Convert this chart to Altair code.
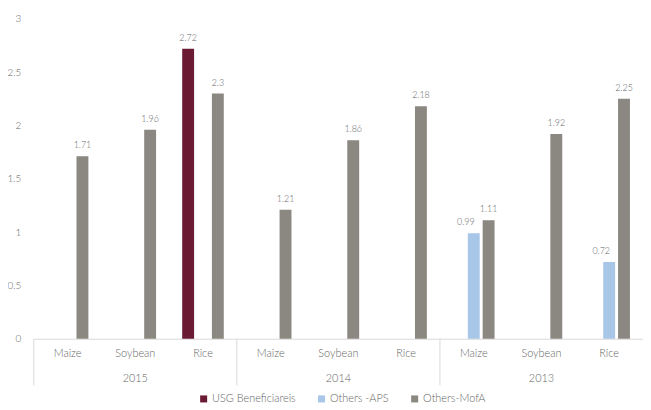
import altair as alt
import pandas as pd

years = ["2015", "2014", "2013"]
crops = ["Maize", "Soybean", "Rice"]
series = ["USG Beneficiareis", "Others -APS", "Others-MofA"]
usg = [None, None, 2.72, None, None, None, None, None, None]
aps = [None, None, None, None, None, None, 0.99, None, 0.72]
mofa = [1.71, 1.96, 2.3, 1.21, 1.86, 2.18, 1.11, 1.92, 2.25]
colors = ["#6b1a34", "#a7c6e8", "#8b8781"]
y_ticks = [0, 0.5, 1, 1.5, 2, 2.5, 3]

FONT = "Lato"
GRAY = "#666666"
W = 300

slots = [f"{y}|{c}" for y in years for c in crops]
rows = []
for vals, s in zip([usg, aps, mofa], series):
    for slot, v in zip(slots, vals):
        if v is not None:
            rows.append({"slot": slot, "series": s, "value": v})
df = pd.DataFrame(rows)

df_years = pd.DataFrame({"slot": [f"{y}|Soybean" for y in years], "year": years})
df_sep = pd.DataFrame({"slot": [f"{y}|Maize" for y in years]})

x_axis = alt.Axis(
    title=None, ticks=False, grid=False, domainColor="#d9d9d9", domainWidth=1,
    labelExpr="split(datum.value, '|')[1]", labelColor=GRAY, labelFont=FONT,
    labelFontSize=11, labelFontWeight=W, labelPadding=9, labelAngle=0,
)
x_scale = alt.Scale(domain=slots, paddingInner=0, paddingOuter=0)
X = alt.X("slot:N", sort=slots, scale=x_scale, axis=x_axis)
XOFF = alt.XOffset("series:N", scale=alt.Scale(domain=series, paddingInner=0.2, paddingOuter=0.88))
Y = alt.Y("value:Q", scale=alt.Scale(domain=[0, 3]),
          axis=alt.Axis(title=None, values=y_ticks, format="~g", grid=False, domain=False, ticks=False,
                        labelColor=GRAY, labelFont=FONT, labelFontSize=10, labelFontWeight=W,
                        labelPadding=13))

bars = alt.Chart(df).mark_bar(size=12).encode(
    x=X, xOffset=XOFF, y=Y,
    color=alt.Color("series:N", scale=alt.Scale(domain=series, range=colors),
                    legend=alt.Legend(title=None, orient="none", legendX=166, legendY=378,
                                      direction="horizontal", symbolType="square", symbolSize=50,
                                      symbolStrokeWidth=0, labelFont=FONT, labelFontSize=11,
                                      labelFontWeight=W, labelColor=GRAY, columnPadding=20,
                                      labelOffset=3)),
)

text_props = dict(baseline="bottom", dy=-6, font=FONT, fontSize=9, fontWeight=W, color=GRAY)
labels = alt.Chart(df).transform_filter(alt.datum.series != "Others -APS").mark_text(**text_props).encode(
    x=X, xOffset=XOFF, y=Y, text=alt.Text("value:Q", format=".2~f"),
)
labels_aps = alt.Chart(df).transform_filter(alt.datum.series == "Others -APS").mark_text(
    dx=-8, **text_props).encode(
    x=X, xOffset=XOFF, y=Y, text=alt.Text("value:Q", format=".2~f"),
)

year_text = alt.Chart(df_years).mark_text(font=FONT, fontSize=11, fontWeight=W, color=GRAY,
                                          baseline="middle").encode(
    x=X, y=alt.value(364), text="year:N",
)

seps = alt.Chart(df_sep).mark_rule(color="#d9d9d9", strokeWidth=1).encode(
    x=alt.X("slot:N", sort=slots, scale=x_scale, axis=x_axis, bandPosition=0),
    y=alt.value(323), y2=alt.value(370),
)

chart = alt.layer(seps, bars, labels, labels_aps, year_text).properties(
    width=615, height=323,
    autosize=alt.AutoSizeParams(type="none"),
    padding={"left": 26, "top": 9, "right": 0, "bottom": 66},
).configure_view(stroke=None)

chart.save("out.html", embed_options={"renderer": "svg", "actions": False})
